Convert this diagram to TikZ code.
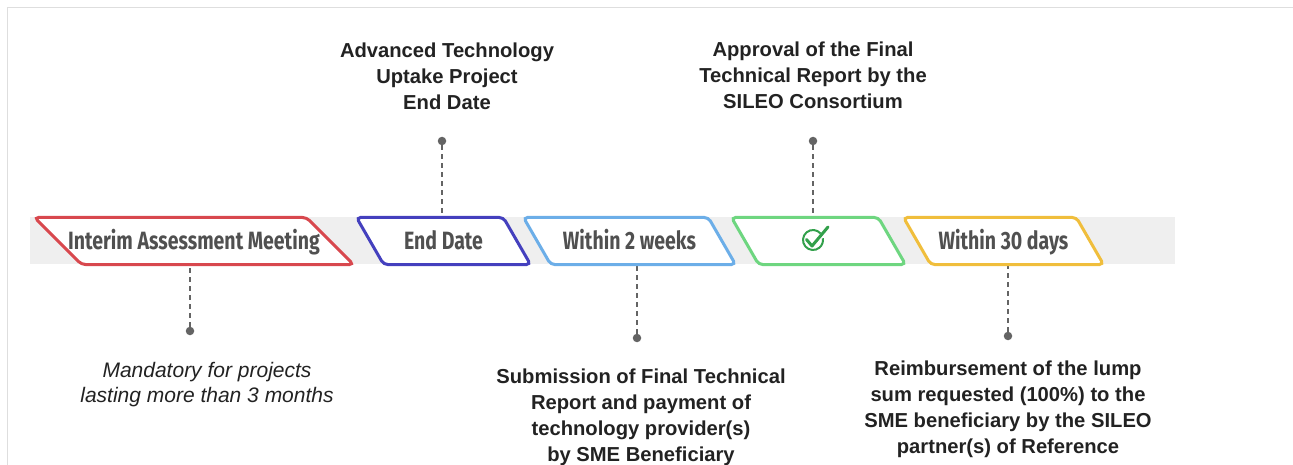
\documentclass[tikz,border=0pt]{standalone}
\usepackage{fontspec}
\setmainfont{Liberation Sans}
\newfontfamily\tagfont[FakeStretch=0.78]{Fira Sans}
\usetikzlibrary{shapes.geometric}

\definecolor{framegray}{RGB}{222,222,222}
\definecolor{bandgray}{RGB}{239,239,239}
\definecolor{tagtext}{RGB}{80,80,80}
\definecolor{dotgray}{RGB}{100,100,100}
\definecolor{labeltext}{RGB}{34,34,34}
\definecolor{tagred}{RGB}{216,72,78}
\definecolor{tagblue}{RGB}{68,64,190}
\definecolor{taglight}{RGB}{108,174,232}
\definecolor{taggreen}{RGB}{110,214,128}
\definecolor{tagyellow}{RGB}{240,190,60}
\definecolor{checkgreen}{RGB}{50,160,75}

\tikzset{
  tag/.style={trapezium, trapezium stretches body=true, trapezium left angle=120,
    trapezium right angle=60, draw=#1, line width=3pt, rounded corners=4pt,
    fill=white, inner sep=0pt, text height=32pt, text depth=15pt, text=tagtext,
    font=\tagfont\bfseries\fontsize{25}{25}\selectfont},
  dot/.style={circle, fill=dotgray, inner sep=0pt, minimum size=8.5pt},
  conn/.style={draw=dotgray, line width=1.2pt, dash pattern=on 5pt off 4pt},
  label/.style={align=center, text=labeltext, font=\bfseries\fontsize{20.2}{26}\selectfont},
  note/.style={align=center, text=labeltext, font=\itshape\fontsize{21}{25}\selectfont}
}

\begin{document}
\begin{tikzpicture}[x=1pt,y=-1pt]
    \useasboundingbox (0,0) rectangle (1293,465);
    \draw[framegray, line width=1.5pt] (7.5,470) -- (7.5,7.5) -- (1300,7.5);
    \fill[bandgray] (30,217) rectangle (1175,264);

    \node[dot] (end-dot) at (442,141) {};
    \node[dot] (app-dot) at (813,141) {};
    \node[dot] (ia-dot) at (190,331) {};
    \node[dot] (sub-dot) at (637,338) {};
    \node[dot] (pay-dot) at (1008,336) {};

    \draw[conn] (end-dot) -- (442,241);
    \draw[conn] (app-dot) -- (813,241);
    \draw[conn] (ia-dot) -- (190,241);
    \draw[conn] (sub-dot) -- (637,241);
    \draw[conn] (pay-dot) -- (1008,241);

    \node[tag=tagred, trapezium left angle=135, trapezium right angle=45,
      minimum width=319pt] (ia) at (194,241) {\makebox[225pt]{Interim Assessment Meeting}};
    \node[tag=tagblue, minimum width=174pt] (end) at (443.5,241) {End Date};
    \node[tag=taglight, minimum width=212pt] (sub) at (629.5,241) {Within 2 weeks};
    \node[tag=taggreen, minimum width=174pt] (app) at (818.5,241) {\phantom{X}};
    \node[tag=tagyellow, minimum width=200pt] (pay) at (1003.5,241) {Within 30 days};

    \draw[checkgreen, line width=2pt] (813,240) ++(40:10pt) arc (40:370:10pt);
    \draw[checkgreen, line width=3pt, line cap=round, line join=round]
      (806.5,239.5) -- (812,246) -- (828,227);

    \node[label] (end-text) at (447,76) {Advanced Technology\\Uptake Project\\End Date};
    \node[label] (app-text) at (813,75) {Approval of the Final\\Technical Report by the\\SILEO Consortium};
    \node[note] (ia-text) at (207,385) {Mandatory for projects\\lasting more than 3 months};
    \node[label] (sub-text) at (641,417) {Submission of Final Technical\\Report and payment of\\technology provider(s)\\by SME Beneficiary};
    \node[label] (pay-text) at (1008,409) {Reimbursement of the lump\\sum requested (100\%) to the\\SME beneficiary by the SILEO\\partner(s) of Reference};
\end{tikzpicture}
\end{document}
